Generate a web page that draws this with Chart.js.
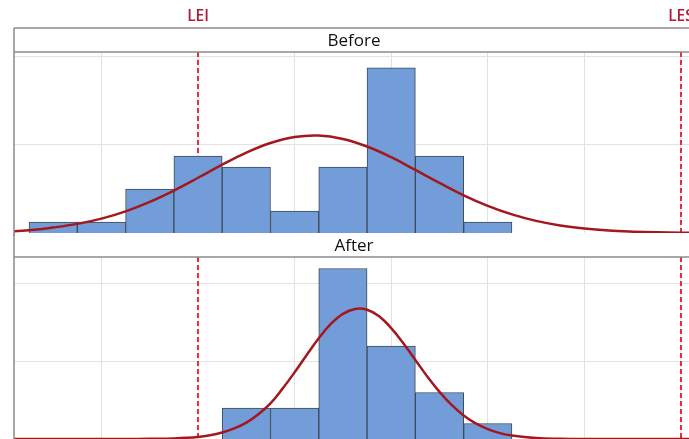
<!DOCTYPE html>
<html>
<head>
<meta charset="utf-8">
<script src="https://cdn.jsdelivr.net/npm/chart.js@4.4.1/dist/chart.umd.min.js"></script>
<style>
  html, body { margin:0; padding:0; background:#ffffff; width:689px; height:439px; overflow:hidden; }
  #wrap { position:relative; width:689px; height:439px; overflow:hidden; }
  canvas { position:absolute; left:0; }
  #before { top:0; }
  #after { top:233px; }
</style>
</head>
<body>
<div id="wrap">
  <canvas id="before" width="704" height="236"></canvas>
  <canvas id="after" width="704" height="209"></canvas>
</div>
<script>
// ---------------- data ----------------
const panelTitles = ['Before', 'After'];

const binCentersBefore = [0.5, 1.5, 2.5, 3.5, 4.5, 5.5, 6.5, 7.5, 8.5, 9.5];
const countsBefore     = [1, 1, 4, 7, 6, 2, 6, 15, 7, 1];

const binCentersAfter  = [4.5, 5.5, 6.5, 7.5, 8.5, 9.5];
const countsAfter      = [2, 2, 11, 6, 3, 1];

// fitted normal curves
const curveXBefore = [-0.5, 0, 0.5, 1, 1.5, 2, 2.5, 3, 3.5, 4, 4.5, 5, 5.5, 6, 6.5, 7, 7.5, 8, 8.5, 9, 9.5, 10, 10.5, 11, 11.5, 12, 12.5, 13, 13.5, 14];
const curveYBefore = [0.12, 0.25, 0.5, 0.83, 1.31, 1.97, 2.83, 3.86, 5.02, 6.21, 7.31, 8.18, 8.73, 8.86, 8.55, 7.86, 6.89, 5.73, 4.55, 3.43, 2.47, 1.69, 1.1, 0.68, 0.4, 0.22, 0.12, 0.06, 0.03, 0.01];

const curveXAfter = [-0.5, 0, 1, 2, 2.5, 3, 3.5, 3.75, 4, 4.25, 4.5, 4.75, 5, 5.25, 5.5, 5.75, 6, 6.25, 6.5, 6.75, 7, 7.25, 7.5, 7.75, 8, 8.25, 8.5, 8.75, 9, 9.25, 9.5, 9.75, 10, 10.5, 11, 11.5, 12, 13, 14];
const curveYAfter = [0, 0, 0, 0, 0.01, 0.04, 0.13, 0.24, 0.42, 0.68, 1.06, 1.6, 2.3, 3.25, 4.3, 5.42, 6.5, 7.42, 8.07, 8.39, 8.34, 7.92, 7.15, 6.18, 5.1, 4.02, 3.04, 2.2, 1.52, 1.01, 0.64, 0.38, 0.22, 0.06, 0.015, 0, 0, 0, 0];

// specification limits
const specLabels = ['LEI', 'LES'];
const specValues = [3.5, 13.5];

// axis ticks (gridlines only, labels hidden)
const xGridTicks   = [1.5, 3.5, 5.5, 7.5, 9.5, 11.5, 13.5];
const yTicksBefore = [8, 16];
const yTicksAfter  = [5, 10];
const xRange = [-0.311, 13.77];
const yMaxBefore = 16.45;
const yMaxAfter  = 11.74;

// ---------------- drawing ----------------
const framePlugin = {
  id: 'panelFrame',
  beforeDatasetsDraw(chart) {
    const { ctx, chartArea: a, scales: { x } } = chart;
    ctx.save();
    ctx.beginPath();
    ctx.rect(a.left, a.top, a.right - a.left, a.bottom - a.top);
    ctx.clip();
    ctx.strokeStyle = '#e6303f';
    ctx.lineWidth = 2;
    ctx.setLineDash([5, 3]);
    specValues.forEach(v => {
      const px = Math.round(x.getPixelForValue(v));
      ctx.beginPath();
      ctx.moveTo(px, a.top);
      ctx.lineTo(px, a.bottom);
      ctx.stroke();
    });
    ctx.restore();
  },
  afterDraw(chart, args, opts) {
    const { ctx, chartArea: a, scales: { x } } = chart;
    const stripTop = a.top - 24;
    ctx.save();
    ctx.strokeStyle = '#8c8c8c';
    ctx.lineWidth = 1.5;
    ctx.beginPath();
    if (opts.topLine) {
      ctx.moveTo(a.left, stripTop);
      ctx.lineTo(a.right, stripTop);
    }
    ctx.moveTo(a.left, a.top);
    ctx.lineTo(a.right, a.top);
    ctx.moveTo(a.left, opts.topLine ? stripTop : 0);
    ctx.lineTo(a.left, chart.height);
    ctx.stroke();

    ctx.fillStyle = '#111111';
    ctx.font = '17px "Open Sans", sans-serif';
    ctx.textAlign = 'center';
    ctx.textBaseline = 'middle';
    ctx.fillText(opts.title, (a.left + a.right) / 2, a.top - 11);

    if (opts.specLabels) {
      ctx.fillStyle = '#b0183c';
      ctx.font = '600 15.5px "Open Sans", sans-serif';
      specValues.forEach((v, i) => {
        ctx.fillText(specLabels[i], x.getPixelForValue(v), 17);
      });
    }
    ctx.restore();
  }
};

function makePanel(id, cfg) {
  return new Chart(document.getElementById(id), {
    type: 'bar',
    data: {
      datasets: [
        {
          type: 'line',
          data: cfg.curveX.map((v, i) => ({ x: v, y: cfg.curveY[i] })),
          borderColor: '#a3181e',
          borderWidth: 2.5,
          pointRadius: 0,
          fill: false,
          tension: 0.4
        },
        {
          type: 'bar',
          data: cfg.centers.map((v, i) => ({ x: v, y: cfg.counts[i] })),
          backgroundColor: '#729dd8',
          borderColor: '#3d4a58',
          borderWidth: 1,
          barPercentage: 1,
          categoryPercentage: 1
        }
      ]
    },
    options: {
      responsive: false,
      devicePixelRatio: 1,
      animation: false,
      events: [],
      layout: { padding: { left: 14, right: 10, top: cfg.padTop, bottom: 3 } },
      plugins: {
        legend: { display: false },
        tooltip: { enabled: false },
        panelFrame: { title: cfg.title, topLine: cfg.topLine, specLabels: cfg.specLabels }
      },
      scales: {
        x: {
          type: 'linear', min: xRange[0], max: xRange[1], offset: false,
          grid: { color: '#e2e2e2', lineWidth: 1, drawTicks: false, offset: false },
          border: { display: false },
          ticks: { display: false },
          afterBuildTicks: s => { s.ticks = xGridTicks.map(v => ({ value: v })); }
        },
        y: {
          type: 'linear', min: 0, max: cfg.yMax,
          grid: { color: '#e2e2e2', lineWidth: 1, drawTicks: false },
          border: { display: false },
          ticks: { display: false },
          afterBuildTicks: s => { s.ticks = cfg.yTicks.map(v => ({ value: v })); }
        }
      }
    },
    plugins: [framePlugin]
  });
}

makePanel('before', {
  title: panelTitles[0], topLine: true, specLabels: true, padTop: 52,
  centers: binCentersBefore, counts: countsBefore,
  curveX: curveXBefore, curveY: curveYBefore,
  yMax: yMaxBefore, yTicks: yTicksBefore
});
makePanel('after', {
  title: panelTitles[1], topLine: false, specLabels: false, padTop: 24,
  centers: binCentersAfter, counts: countsAfter,
  curveX: curveXAfter, curveY: curveYAfter,
  yMax: yMaxAfter, yTicks: yTicksAfter
});
</script>
</body>
</html>
